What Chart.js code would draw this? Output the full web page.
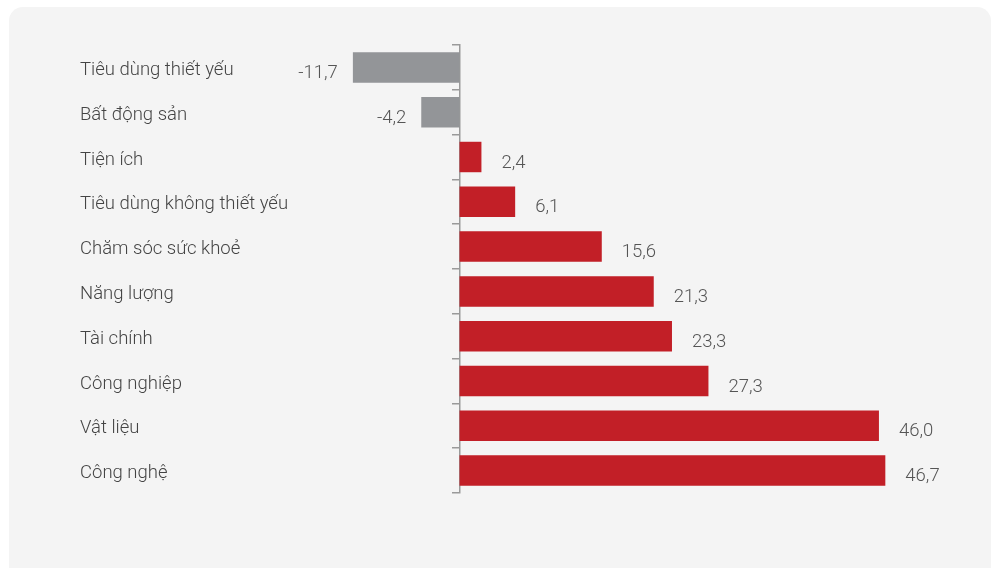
<!DOCTYPE html>
<html>
<head>
<meta charset="utf-8">
<script src="https://cdn.jsdelivr.net/npm/chart.js@4/dist/chart.umd.min.js"></script>
<style>
  html, body { margin: 0; padding: 0; background: #fff; }
  body { width: 992px; height: 568px; position: relative; overflow: hidden; }
  .card { position: absolute; left: 9px; top: 7px; width: 982px; height: 575px; background: #f4f4f4; border-radius: 14px; }
  #myChart { position: absolute; left: 0; top: 0; }
</style>
</head>
<body>
<div class="card"></div>
<canvas id="myChart" width="992" height="568"></canvas>
<script>
const sectors = [
  "Tiêu dùng thiết yếu",
  "Bất động sản",
  "Tiện ích",
  "Tiêu dùng không thiết yếu",
  "Chăm sóc sức khoẻ",
  "Năng lượng",
  "Tài chính",
  "Công nghiệp",
  "Vật liệu",
  "Công nghệ",
];
const changes = [-11.7, -4.2, 2.4, 6.1, 15.6, 21.3, 23.3, 27.3, 46.0, 46.7];

const red = "#c21f27";
const grey = "#939598";
const fontFamily = "Roboto, 'Noto Sans', sans-serif";

const fmt = (v) => v.toFixed(1).replace(".", ",");

// value labels next to each bar
const valueLabels = {
  id: "valueLabels",
  afterDatasetsDraw(chart) {
    const ctx = chart.ctx;
    const meta = chart.getDatasetMeta(0);
    ctx.save();
    ctx.font = "300 18.5px " + fontFamily;
    ctx.fillStyle = "#555";
    ctx.textBaseline = "middle";
    meta.data.forEach((bar, i) => {
      const v = changes[i];
      if (v < 0) {
        ctx.textAlign = "right";
        ctx.fillText(fmt(v), bar.x - 15, bar.y + 6);
      } else {
        ctx.textAlign = "left";
        ctx.fillText(fmt(v), bar.x + 20, bar.y + 6);
      }
    });
    ctx.restore();
  },
};

const chartCtx = document.getElementById("myChart").getContext("2d");
window.chart = new Chart(chartCtx, {
  type: "bar",
  data: {
    labels: sectors,
    datasets: [
      {
        data: changes,
        backgroundColor: changes.map((v) => (v < 0 ? grey : red)),
        barPercentage: 0.68,
        categoryPercentage: 1,
        borderSkipped: false,
      },
    ],
  },
  options: {
    indexAxis: "y",
    responsive: false,
    animation: false,
    layout: { padding: { left: 80, top: 45, bottom: 75, right: 31 } },
    plugins: {
      legend: { display: false },
      tooltip: { enabled: false },
    },
    scales: {
      x: {
        display: false,
        min: -17.5,
        max: 55,
      },
      y: {
        position: "left",
        afterFit: (scale) => {
          scale.width = 220;
        },
        grid: { display: false },
        border: { display: false },
        ticks: {
          crossAlign: "far",
          padding: 0,
          labelOffset: 3,
          color: "#444",
          font: { family: fontFamily, size: 18.5, weight: 300 },
        },
      },
      y2: {
        type: "category",
        position: { x: 0 },
        offset: true,
        ticks: { display: false },
        grid: {
          offset: true,
          drawOnChartArea: false,
          drawTicks: true,
          tickLength: 7,
          color: "#9a9a9a",
          lineWidth: 1.5,
        },
        border: { display: true, color: "#9a9a9a", width: 1.5 },
      },
    },
  },
  plugins: [valueLabels],
});
</script>
</body>
</html>
